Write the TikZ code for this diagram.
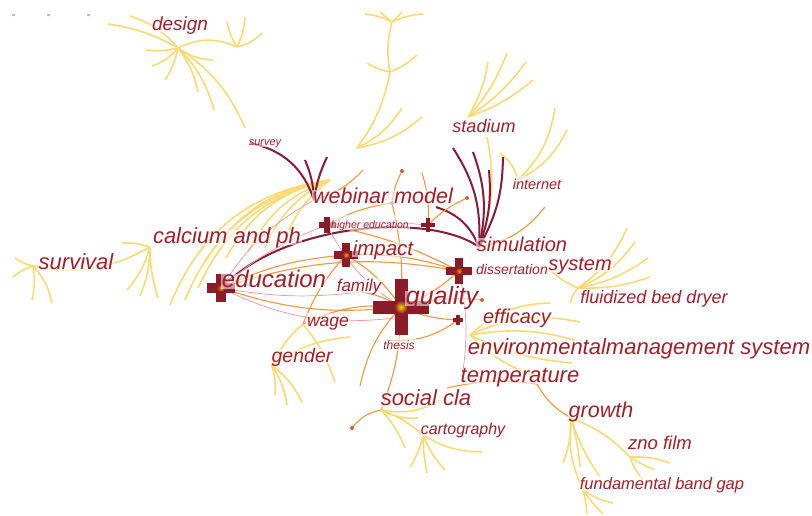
\documentclass[tikz,border=0pt]{standalone}
\usepackage{fontspec}
\setmainfont{Liberation Sans}
\usetikzlibrary{positioning}
\definecolor{kwred}{RGB}{160,32,42}
\definecolor{crossred}{RGB}{138,28,42}
\definecolor{edgeyel}{RGB}{250,218,118}
\definecolor{edgeorg}{RGB}{244,150,62}
\definecolor{edgepnk}{RGB}{240,150,150}
\definecolor{edgemar}{RGB}{135,28,58}
\tikzset{pics/burst/.style 2 args={code={
  \fill[crossred] (-#1,-#2) rectangle (#1,#2);
  \fill[crossred] (-#2,-#1) rectangle (#2,#1);
}}}

\begin{document}
\begin{tikzpicture}[x=1pt,y=-1pt,
  kw/.style={text=kwred, font=\itshape\fontsize{#1}{#1}\selectfont, inner sep=1pt,
    text height=1.3em, text depth=0em, fill=white, fill opacity=0.55, text opacity=1},
  yel/.style={draw=edgeyel, line width=1.6pt},
  org/.style={draw=edgeorg, line width=1.1pt},
  pnk/.style={draw=edgepnk, line width=0.7pt},
  mar/.style={draw=edgemar, line width=2pt},
  dot/.style={circle, fill=edgeorg!60!crossred, inner sep=0pt, minimum size=4pt}]
\useasboundingbox (0,0) rectangle (812,515);
% stray marks
\fill[gray!50] (12,14) rectangle (15,16) (47,14) rectangle (50,16) (87,14) rectangle (90,16);

% hubs
\coordinate (dhub) at (178,48);
\coordinate (dhub2) at (237,47);
\coordinate (thub1) at (392,22);
\coordinate (thub2) at (390,72);
\coordinate (thub3) at (357,148);
\coordinate (svy) at (250,143);
\coordinate (whub) at (314,200);
\coordinate (yhub) at (330,180);
\coordinate (sthub) at (468,117);
\coordinate (sty) at (487,137);
\coordinate (simhub) at (479,247);
\coordinate (ihub) at (518,180);
\coordinate (wr) at (436,207);
\coordinate (ehub) at (221,288);
\coordinate (imp) at (346,255);
\coordinate (hed) at (327,225);
\coordinate (qhub) at (401,307);
\coordinate (diss) at (459,271);
\coordinate (ecx) at (458,320);
\coordinate (c2) at (428,225);
\coordinate (fam) at (362,292);
\coordinate (wag) at (303,324);
\coordinate (thes) at (386,340);
\coordinate (ghub) at (272,366);
\coordinate (svhub) at (33,266);
\coordinate (chub) at (150,247);
\coordinate (syhub) at (578,288);
\coordinate (efhub) at (470,335);
\coordinate (shub) at (381,410);
\coordinate (cahub) at (423,435);
\coordinate (grhub) at (571,418);
\coordinate (znhub) at (630,457);
\coordinate (fbhub) at (583,490);
\coordinate (tmp) at (537,384);

% design fan
\foreach \a/\b/\c [count=\i] in {108/24/-10,130/16/-15,146/50/10,152/66/15,165/80/10,213/60/-15,198/92/12,214/110/14,245/128/16}
  {\coordinate (dl\i) at (\a,\b); \draw[yel] (dhub) to[bend left=\c] (dl\i);}
\draw[yel] (dhub) to[bend left=25] (dhub2);
\foreach \a/\b/\c [count=\i] in {227/22/10,245/17/-10,262/33/-15}
  {\coordinate (dm\i) at (\a,\b); \draw[yel] (dhub2) to[bend left=\c] (dm\i);}

% top chain
\foreach \a/\b/\c [count=\i] in {365/14/-10,380/12/0,402/12/0,423/14/10}
  {\coordinate (tl\i) at (\a,\b); \draw[yel] (thub1) to[bend left=\c] (tl\i);}
\draw[yel] (thub1) to[bend right=12] (thub2);
\foreach \a/\b/\c [count=\i] in {367/63/10,417/55/-10}
  {\coordinate (tm\i) at (\a,\b); \draw[yel] (thub2) to[bend left=\c] (tm\i);}
\draw[yel] (thub2) to[bend left=12] (thub3);
\foreach \a/\b/\c [count=\i] in {402/108/15,422/117/15}
  {\coordinate (tn\i) at (\a,\b); \draw[yel] (thub3) to[bend right=\c] (tn\i);}

% arcs into webinar
\foreach \a/\b/\c [count=\i] in {170/305/30,185/300/28,198/288/26,205/262/24,226/258/24,248/252/22,265/248/20,282/250/18}
  {\coordinate (yl\i) at (\a,\b); \draw[yel] (yl\i) to[bend left=\c] (yhub);}
\draw[pnk] (ehub) to[bend left=14] (whub);
\draw[mar] (svy) to[bend left=30] (whub);
\coordinate (wa) at (305,160);
\coordinate (wb) at (327,157);
\draw[mar] (wa) to[bend left=10] (whub);
\draw[mar] (wb) to[bend right=8] (whub);

% stadium, internet, simulation
\foreach \a/\b [count=\i] in {488/62,507/53,526/62,533/80}
  {\coordinate (sl\i) at (\a,\b); \draw[yel] (sthub) to[bend right=10] (sl\i);}
\draw[yel] (sty) to[bend left=15] (simhub);
\foreach \a/\b [count=\i] in {555/108,567/130,500/153}
  {\coordinate (il\i) at (\a,\b); \draw[yel] (ihub) to[bend right=18] (il\i);}
\foreach \a/\b/\c [count=\i] in {453/148/18,473/152/16,489/170/12,503/157/14}
  {\coordinate (ml\i) at (\a,\b); \draw[mar] (simhub) to[bend right=\c] (ml\i);}
\coordinate (so1) at (545,207);
\draw[org] (simhub) to[bend right=20] (so1);
\draw[mar] (ehub) .. controls (285,222) and (430,212) .. (simhub);
\draw[mar] (wr) to[bend left=25] (simhub);

% centre
\coordinate (d1) at (392,203);
\coordinate (d2) at (402,171);
\coordinate (d3) at (467,198);
\coordinate (d4) at (352,428);
\coordinate (d5) at (482,300);
\coordinate (o1) at (363,170);
\coordinate (o2) at (422,173);
\coordinate (o3) at (360,386);
\coordinate (p1) at (395,318);
\coordinate (p2) at (462,378);
\draw[org] (ehub) to[bend right=12] (qhub);
\draw[org] (ehub) to[bend left=10] (imp);
\draw[org] (ehub) to[bend left=14] (diss);
\draw[pnk] (ehub) to[bend left=10] (hed);
\draw[pnk] (ehub) to[bend right=16] (p1);
\draw[pnk] (ehub) to[bend right=8] (fam);
\draw[org] (hed) to[bend left=8] (diss);
\draw[pnk] (hed) to[bend left=5] (c2);
\draw[pnk] (hed) to[bend right=15] (qhub);
\draw[org] (imp) to[bend left=12] (qhub);
\draw[org] (imp) to[bend left=10] (diss);
\draw[org] (d1) to[bend left=8] (qhub);
\draw[org] (d1) to[bend right=10] (hed);
\draw[org] (c2) to[bend left=10] (d3);
\draw[org] (o1) to[bend left=15] (whub);
\draw[org] (d2) to[bend right=10] (d1);
\draw[org] (o2) to[bend left=10] (c2);
\draw[org] (qhub) to[bend right=10] (diss);
\draw[org] (qhub) to[bend left=10] (d5);
\draw[org] (qhub) to[bend right=10] (ecx);
\draw[org] (thes) to[bend right=20] (ecx);
\draw[org] (fam) to[bend left=10] (qhub);
\draw[org] (wag) to[bend left=15] (qhub);
\draw[org] (wag) to[bend left=10] (imp);
\draw[org] (qhub) to[bend right=15] (o3);
\draw[org] (qhub) to[bend left=10] (shub);
\draw[pnk] (diss) to[bend left=10] (p2);
\draw[org] (shub) to[bend right=20] (d4);

% gender, wage
\foreach \a/\b/\c [count=\i] in {275/395/10,287/405/12,302/403/15}
  {\coordinate (gl\i) at (\a,\b); \draw[yel] (ghub) to[bend left=\c] (gl\i);}
\draw[yel] (ghub) to[bend left=12] (wag);
\coordinate (gw1) at (350,337);
\coordinate (gw2) at (335,382);
\draw[yel] (ghub) to[bend left=15] (gw1);
\draw[yel] (wag) to[bend left=10] (gw2);

% survival, calcium
\foreach \a/\b/\c [count=\i] in {15/258/10,13/277/-10,32/300/10,52/303/15}
  {\coordinate (vl\i) at (\a,\b); \draw[yel] (svhub) to[bend left=\c] (vl\i);}
\draw[yel] (svhub) to[bend right=20] (chub);
\foreach \a/\b/\c [count=\i] in {122/243/-10,127/290/12,140/296/10,158/298/-8}
  {\coordinate (cl\i) at (\a,\b); \draw[yel] (chub) to[bend left=\c] (cl\i);}

% system, efficacy
\foreach \a/\b/\c [count=\i] in {627/228/15,635/242/15,648/258/12,650/277/10,548/268/-10,570/303/10}
  {\coordinate (yy\i) at (\a,\b); \draw[yel] (syhub) to[bend right=\c] (yy\i);}
\foreach \a/\b/\c [count=\i] in {550/303/20,580/322/18,575/340/12,572/363/-10,545/378/-15}
  {\coordinate (el\i) at (\a,\b); \draw[yel] (efhub) to[bend left=\c] (el\i);}

% social cla, cartography
\foreach \a/\b/\c [count=\i] in {418/418/-15,440/400/-20,405/448/10}
  {\coordinate (hl\i) at (\a,\b); \draw[yel] (shub) to[bend left=\c] (hl\i);}
\draw[yel] (shub) to[bend left=10] (cahub);
\foreach \a/\b/\c [count=\i] in {410/467/10,427/473/-5,445/470/-10,482/452/-15}
  {\coordinate (al\i) at (\a,\b); \draw[yel] (cahub) to[bend left=\c] (al\i);}
\coordinate (so2) at (447,388);
\draw[org] (so2) to[bend left=10] (tmp);

% growth
\draw[org] (tmp) to[bend right=15] (grhub);
\foreach \a/\b/\c [count=\i] in {563/463/10,580/467/5,600/477/-8}
  {\coordinate (rl\i) at (\a,\b); \draw[yel] (grhub) to[bend left=\c] (rl\i);}
\draw[yel] (grhub) to[bend left=12] (znhub);
\draw[yel] (grhub) to[bend right=15] (fbhub);
\foreach \a/\b/\c [count=\i] in {670/463/10,655/470/-5,643/480/-10}
  {\coordinate (zl\i) at (\a,\b); \draw[yel] (znhub) to[bend left=\c] (zl\i);}
\foreach \a/\b/\c [count=\i] in {587/514/5,603/514/-5,613/503/-10}
  {\coordinate (fl\i) at (\a,\b); \draw[yel] (fbhub) to[bend left=\c] (fl\i);}

% small dots
\foreach \p in {d1,d2,d3,d4,d5} \node[dot] at (\p) {};

% crosses
\pic (qx) at (qhub) {burst={28}{6.5}};
\shade[inner color=yellow!70!orange, outer color=crossred] (qhub) circle (6.5);
\pic (ex) at (ehub) {burst={14}{5}};
\shade[inner color=orange!80!yellow, outer color=crossred] (ehub) circle (4);
\pic (ix) at (imp) {burst={12}{4}};
\shade[inner color=orange!80!yellow, outer color=crossred] (imp) circle (3.5);
\pic (hx) at (hed) {burst={8}{2.7}};
\pic (cx) at (c2) {burst={7}{2.3}};
\pic (dx) at (diss) {burst={13}{4}};
\shade[inner color=orange!80!yellow, outer color=crossred] (diss) circle (3.5);
\pic (fx) at (ecx) {burst={5}{1.8}};

% keywords
\node[kw=19] (design) at (180,24) {design};
\node[kw=11] (survey) at (265,139) {survey};
\node[kw=18] (stadium) at (484,126) {stadium};
\node[kw=14.5] (internet) at (537,183) {internet};
\node[kw=21.5] (webinar) at (383,197) {webinar model};
\node[kw=10.5] (higher) at (370,222) {higher education};
\node[kw=22] (calcium) at (227,237) {calcium and ph};
\node[kw=20.5] (impact) at (383,249) {impact};
\node[kw=20] (simulation) at (522,245) {simulation};
\node[kw=22] (survival) at (76,263) {survival};
\node[kw=24] (education) at (274,281) {education};
\node[kw=17] (family) at (359,285) {family};
\node[kw=20] (system) at (580,264) {system};
\node[kw=14] (dissertation) at (512,268) {dissertation};
\node[kw=25] (quality) at (442,298) {quality};
\node[kw=18] (dryer) at (654,297) {fluidized bed dryer};
\node[kw=20] (efficacy) at (517,317) {efficacy};
\node[kw=17.5] (wage) at (328,320) {wage};
\node[kw=12] (thesis) at (399,343) {thesis};
\node[kw=22] (ems) at (639,348) {environmentalmanagement system};
\node[kw=19.5] (gender) at (302,356) {gender};
\node[kw=22] (temperature) at (520,376) {temperature};
\node[kw=22] (social) at (426,399) {social cla};
\node[kw=21.5] (growth) at (601,411) {growth};
\node[kw=16] (cartography) at (463,428) {cartography};
\node[kw=18.5] (zno) at (660,443) {zno film};
\node[kw=16.5] (bandgap) at (662,483) {fundamental band gap};
\end{tikzpicture}
\end{document}
